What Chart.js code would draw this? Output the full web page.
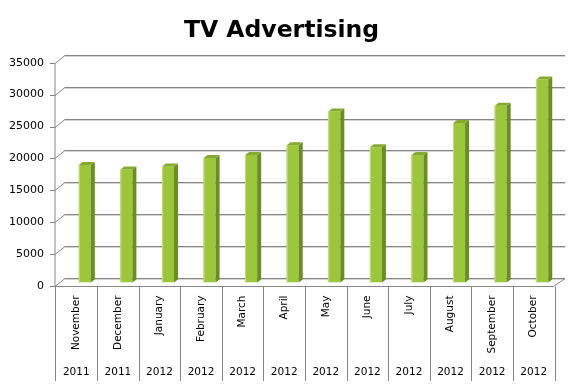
<!DOCTYPE html>
<html>
<head>
<meta charset="utf-8">
<script src="https://cdn.jsdelivr.net/npm/chart.js@4/dist/chart.umd.min.js"></script>
<style>
  html, body { margin: 0; padding: 0; background: #fff; }
  canvas { display: block; }
</style>
</head>
<body>
<canvas id="tvChart" width="585" height="392"></canvas>
<script>
const months = ["November", "December", "January", "February", "March", "April",
  "May", "June", "July", "August", "September", "October"];
const years = ["2011", "2011", "2012", "2012", "2012", "2012",
  "2012", "2012", "2012", "2012", "2012", "2012"];
const spend = [18400, 17700, 18200, 19500, 20000, 21500,
  26800, 21200, 20000, 25000, 27700, 31800];
const yTicks = [0, 5000, 10000, 15000, 20000, 25000, 30000, 35000];

const FONT = "'DejaVu Sans', Verdana, sans-serif";
const depthX = 9.5, depthY = 8;      // wall depth (front = back + (-depthX, +depthY))
const barDX = 4, barDY = 3;          // bar extrusion

// draws the back wall, left wall edge, floor, 3D bar faces and category labels
const wallsPlugin = {
  id: "walls",
  beforeDatasetsDraw(chart) {
    const { ctx, chartArea: a, scales } = chart;
    const y = scales.y;
    const backL = a.left + 1, backR = a.right + 2;
    const frontL = backL - depthX - 0.5;
    ctx.save();
    yTicks.forEach((v) => {
      const by = Math.round(y.getPixelForValue(v) - 4.5) + 0.5;
      const fy = by + depthY;
      ctx.strokeStyle = "#d4d4d4";
      ctx.lineWidth = 1;
      ctx.beginPath();
      ctx.moveTo(backL, by + 1);
      ctx.lineTo(backR, by + 1);
      ctx.stroke();
      ctx.strokeStyle = "#868686";
      ctx.beginPath();
      ctx.moveTo(frontL - 5, fy);
      ctx.lineTo(frontL, fy);
      ctx.lineTo(backL, by);
      ctx.lineTo(backR, by);
      ctx.stroke();
    });
    // left wall front edge and floor
    const topF = Math.round(y.getPixelForValue(yTicks[yTicks.length - 1]) - 4.5) + 0.5 + depthY;
    const botB = Math.round(y.getPixelForValue(0) - 4.5) + 0.5;
    const botF = botB + depthY;
    ctx.strokeStyle = "#868686";
    ctx.beginPath();
    ctx.moveTo(frontL, topF);
    ctx.lineTo(frontL, botF);
    ctx.lineTo(backR - depthX - 2, botF);
    ctx.lineTo(backR, botB);
    ctx.stroke();
    ctx.restore();
  },
  afterDatasetsDraw(chart) {
    const { ctx } = chart;
    const meta = chart.getDatasetMeta(0);
    ctx.save();
    meta.data.forEach((bar) => {
      const l = bar.x - bar.width / 2, r = bar.x + bar.width / 2;
      // side face
      ctx.fillStyle = "#6b8e23";
      ctx.beginPath();
      ctx.moveTo(r, bar.y);
      ctx.lineTo(r + barDX, bar.y - barDY);
      ctx.lineTo(r + barDX, bar.base - barDY);
      ctx.lineTo(r, bar.base);
      ctx.closePath();
      ctx.fill();
      // top face
      ctx.fillStyle = "#85ab2e";
      ctx.beginPath();
      ctx.moveTo(l, bar.y);
      ctx.lineTo(l + barDX, bar.y - barDY);
      ctx.lineTo(r + barDX, bar.y - barDY);
      ctx.lineTo(r, bar.y);
      ctx.closePath();
      ctx.fill();
      // light left edge
      ctx.strokeStyle = "#c3df86";
      ctx.beginPath();
      ctx.moveTo(l + 0.5, bar.y);
      ctx.lineTo(l + 0.5, bar.base);
      ctx.stroke();
    });
    ctx.restore();
  },
  afterDraw(chart) {
    const { ctx, scales } = chart;
    const x = scales.x;
    const cat = x.getPixelForValue(1) - x.getPixelForValue(0);
    const fy = Math.round(scales.y.getPixelForValue(0) - 4.5) + 0.5 + depthY;
    ctx.save();
    ctx.strokeStyle = "#868686";
    ctx.lineWidth = 1;
    for (let i = 0; i <= months.length; i++) {
      const bx = x.getPixelForValue(0) - cat / 2 + i * cat - depthX + 1;
      const px = Math.round(bx) + 0.5;
      ctx.beginPath();
      ctx.moveTo(px, fy);
      ctx.lineTo(px, 381);
      ctx.stroke();
    }
    // month labels, rotated, reading upwards, anchored at the top
    ctx.fillStyle = "#000";
    ctx.font = "10.5px " + FONT;
    ctx.textAlign = "right";
    ctx.textBaseline = "middle";
    months.forEach((m, i) => {
      ctx.save();
      ctx.translate(x.getPixelForValue(i) - 8.5, fy + 9);
      ctx.rotate(-Math.PI / 2);
      ctx.fillText(m, 0, 0);
      ctx.restore();
    });
    ctx.restore();
  }
};

new Chart(document.getElementById("tvChart"), {
  type: "bar",
  data: {
    labels: months,
    datasets: [{
      label: "TV Advertising",
      data: spend,
      backgroundColor: "#9cc73b",
      borderWidth: 0,
      categoryPercentage: 1,
      barPercentage: 0.29
    }]
  },
  plugins: [wallsPlugin],
  options: {
    responsive: false,
    animation: false,
    layout: { padding: { left: 0, right: 22, top: 0, bottom: 0 } },
    plugins: {
      legend: { display: false },
      tooltip: { enabled: false },
      title: {
        display: true,
        text: "TV Advertising",
        color: "#000",
        font: { family: FONT, size: 23.5, weight: "bold" },
        padding: { top: 17, bottom: 14 }
      }
    },
    scales: {
      y: {
        min: 0,
        max: 35000,
        afterBuildTicks: (scale) => { scale.ticks = yTicks.map((v) => ({ value: v })); },
        afterFit: (scale) => { scale.width = 64; },
        grid: { display: false, drawTicks: false },
        border: { display: false },
        ticks: {
          color: "#000",
          font: { family: FONT, size: 11 },
          padding: 20,
          labelOffset: 3.5,
          callback: (v) => String(v)
        }
      },
      x: {
        weight: 0,
        afterFit: (scale) => { scale.height = 80; },
        grid: { display: false, drawTicks: false },
        border: { display: false },
        ticks: { display: false }
      },
      x2: {
        type: "category",
        position: "bottom",
        weight: 1,
        labels: years,
        afterFit: (scale) => { scale.height = 29.5; },
        grid: { display: false, drawTicks: false },
        border: { display: false },
        ticks: {
          color: "#000",
          font: { family: FONT, size: 10.5 },
          maxRotation: 0,
          autoSkip: false,
          padding: 3,
          labelOffset: -8.5
        }
      }
    }
  }
});
</script>
</body>
</html>
